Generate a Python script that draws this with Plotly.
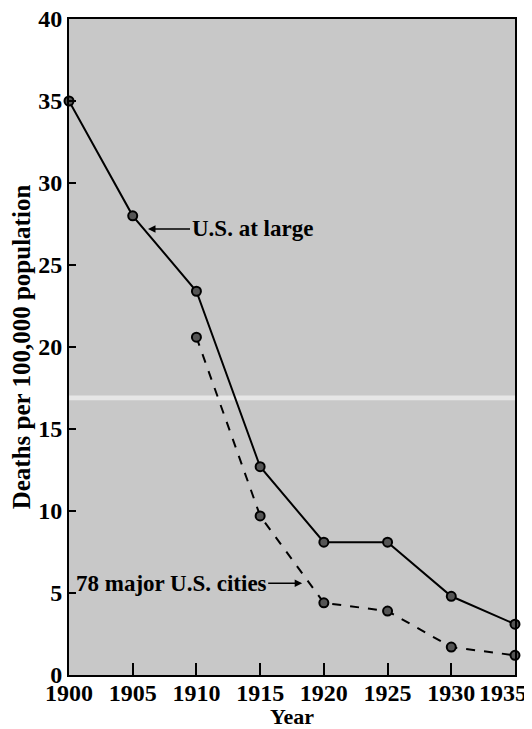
import plotly.graph_objects as go

years_us = [1900, 1905, 1910, 1915, 1920, 1925, 1930, 1935]
deaths_us = [35.0, 28.0, 23.4, 12.7, 8.1, 8.1, 4.8, 3.1]
years_cities = [1910, 1915, 1920, 1925, 1930, 1935]
deaths_cities = [20.6, 9.7, 4.4, 3.9, 1.7, 1.2]
x_ticks = [1900, 1905, 1910, 1915, 1920, 1925, 1930, 1935]
y_ticks = [0, 5, 10, 15, 20, 25, 30, 35, 40]

FONT = "Liberation Serif"
marker = dict(size=9, color="#555555", line=dict(color="black", width=2))

x_ticktext = [f"<b>{v}</b>" for v in x_ticks]
x_ticktext[-1] = x_ticktext[-1] + "\u00a0" * 4  # last label sits left of its tick, as in the original

fig = go.Figure()
# faint light scan band across the panel
fig.add_shape(type="rect", xref="paper", yref="y", x0=0, x1=1, y0=16.75, y1=17.05,
              fillcolor="#e6e6e6", line_width=0, layer="below")
fig.add_trace(go.Scatter(x=years_us, y=deaths_us, mode="lines+markers",
                         line=dict(color="black", width=2), marker=marker,
                         name="U.S. at large", showlegend=False, cliponaxis=False))
fig.add_trace(go.Scatter(x=years_cities, y=deaths_cities, mode="lines+markers",
                         line=dict(color="black", width=2, dash="dash"), marker=marker,
                         name="78 major U.S. cities", showlegend=False, cliponaxis=False))

fig.add_annotation(x=1906.2, y=27.2, ax=104, ay=0, text="<b>U.S. at large</b>",
                   showarrow=True, arrowhead=2, arrowsize=1, arrowwidth=1.5,
                   arrowcolor="black", font=dict(family=FONT, size=23, color="black"))
fig.add_annotation(x=1918.3, y=5.6, ax=-131, ay=0, text="<b>78 major U.S. cities</b>",
                   showarrow=True, arrowhead=2, arrowsize=1, arrowwidth=1.5,
                   arrowcolor="black", font=dict(family=FONT, size=23, color="black"))

axis_common = dict(showline=True, linecolor="black", linewidth=2, mirror=True,
                   showgrid=False, zeroline=False, ticks="inside", tickcolor="black",
                   tickwidth=1.5, automargin=False, ticklabeloverflow="allow")

fig.update_xaxes(range=[1900, 1935.001], tickvals=x_ticks, ticktext=x_ticktext, ticklen=12,
                 ticklabelstandoff=-5,
                 tickfont=dict(family=FONT, size=24, color="black"),
                 title=dict(text="<b>Year</b>", font=dict(family=FONT, size=22, color="black"),
                            standoff=11),
                 **axis_common)
fig.update_yaxes(range=[0, 40.001], tickvals=y_ticks,
                 ticktext=[f"<b>{v}</b>" for v in y_ticks], ticklen=7,
                 tickfont=dict(family=FONT, size=24, color="black"),
                 title=dict(text="<b>Deaths per 100,000 population</b>",
                            font=dict(family=FONT, size=25, color="black"), standoff=4),
                 **axis_common)

# page body adds an 8px offset; size figure so the panel lands at x 69-515, y 19-675
fig.update_layout(width=524, height=721, margin=dict(l=61, r=17, t=11, b=54),
                  paper_bgcolor="white", plot_bgcolor="#c8c8c8",
                  font=dict(family=FONT, color="black"))

fig.write_html("out.html")
